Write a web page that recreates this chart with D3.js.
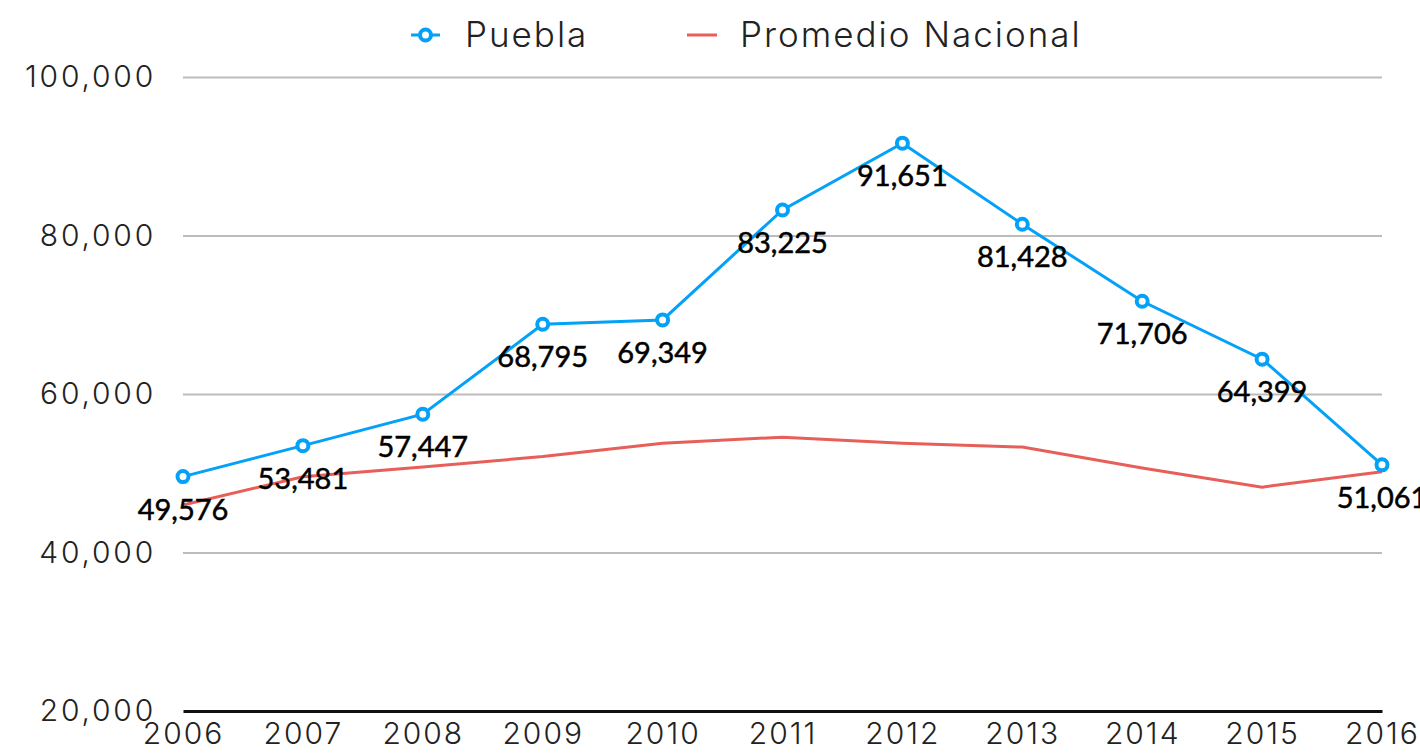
<!DOCTYPE html>
<html>
<head>
<meta charset="utf-8">
<script src="https://cdn.jsdelivr.net/npm/d3@7"></script>
<style>
  body { margin: 0; background: #fff; }
  svg { display: block; }
</style>
</head>
<body>
<svg width="1420" height="753"></svg>
<script>
let years = [2006, 2007, 2008, 2009, 2010, 2011, 2012, 2013, 2014, 2015, 2016];
let puebla = [49576, 53481, 57447, 68795, 69349, 83225, 91651, 81428, 71706, 64399, 51061];
let nacional = [46000, 49550, 50800, 52100, 53800, 54550, 53800, 53300, 50650, 48250, 50200];
let yTicks = [20000, 40000, 60000, 80000, 100000];

let svg = d3.select("svg"),
    width = +svg.attr("width"),
    height = +svg.attr("height");

let margin = {left: 183, right: 38, top: 77, bottom: 42};
let blue = "#03a1f7", red = "#e85e58";
let axisFont = "Inter, 'Open Sans', sans-serif";

let x = d3.scalePoint()
    .domain(years)
    .range([margin.left, width - margin.right]);

let y = d3.scaleLinear()
    .domain([20000, 100000])
    .range([height - margin.bottom, margin.top]);

let fmt = d3.format(",");

// grid + y labels
let yAxis = svg.append("g")
    .attr("transform", "translate(" + margin.left + ",0)")
    .call(d3.axisLeft(y).tickValues(yTicks).tickSize(-(width - margin.right - margin.left)).tickPadding(27).tickFormat(fmt));
yAxis.select(".domain").remove();
yAxis.selectAll(".tick line")
    .attr("stroke", "#bcbcbc")
    .attr("stroke-width", 2);
yAxis.selectAll(".tick text")
    .style("font-family", axisFont)
    .style("font-weight", 300)
    .style("font-size", "30px")
    .style("letter-spacing", "2.8px")
    .attr("fill", "#222");
yAxis.selectAll(".tick").filter(d => d === 20000).select("line").remove();

// x axis
let xAxis = svg.append("g")
    .attr("transform", "translate(0," + y(20000) + ")")
    .call(d3.axisBottom(x).tickSize(0).tickPadding(12));
xAxis.select(".domain")
    .attr("stroke", "#111")
    .attr("stroke-width", 3);
xAxis.selectAll(".tick text")
    .style("font-family", axisFont)
    .style("font-weight", 300)
    .style("font-size", "30px")
    .style("letter-spacing", "2px")
    .attr("dx", 0)
    .attr("fill", "#222");

// lines
let line = d3.line()
    .x((d, i) => x(years[i]))
    .y(d => y(d));

svg.append("path")
    .datum(nacional)
    .attr("fill", "none")
    .attr("stroke", red)
    .attr("stroke-width", 3)
    .attr("d", line);

svg.append("path")
    .datum(puebla)
    .attr("fill", "none")
    .attr("stroke", blue)
    .attr("stroke-width", 3)
    .attr("d", line);

svg.selectAll(".dot")
    .data(puebla)
    .enter().append("circle")
    .attr("cx", (d, i) => x(years[i]))
    .attr("cy", d => y(d))
    .attr("r", 5.5)
    .attr("fill", "#fff")
    .attr("stroke", blue)
    .attr("stroke-width", 4);

svg.selectAll(".lbl")
    .data(puebla)
    .enter().append("text")
    .attr("x", (d, i) => x(years[i]))
    .attr("y", d => y(d) + 43)
    .attr("text-anchor", "middle")
    .style("font-family", "Lato, sans-serif")
    .style("font-size", "29px")
    .attr("fill", "#000")
    .attr("stroke", "#000")
    .attr("stroke-width", 0.5)
    .text(d => fmt(d));

// legend
let legend = svg.append("g");
legend.append("line")
    .attr("x1", 411).attr("x2", 440).attr("y1", 35).attr("y2", 35)
    .attr("stroke", blue).attr("stroke-width", 3);
legend.append("circle")
    .attr("cx", 425.5).attr("cy", 35).attr("r", 5.5)
    .attr("fill", "#fff").attr("stroke", blue).attr("stroke-width", 4);
legend.append("text")
    .attr("x", 465).attr("y", 47)
    .style("font-family", axisFont)
    .style("font-weight", 300)
    .style("font-size", "35px")
    .style("letter-spacing", "2px")
    .attr("fill", "#222")
    .text("Puebla");
legend.append("line")
    .attr("x1", 687).attr("x2", 717).attr("y1", 35).attr("y2", 35)
    .attr("stroke", red).attr("stroke-width", 3);
legend.append("text")
    .attr("x", 740).attr("y", 47)
    .style("font-family", axisFont)
    .style("font-weight", 300)
    .style("font-size", "35px")
    .style("letter-spacing", "2px")
    .attr("fill", "#222")
    .text("Promedio Nacional");
</script>
</body>
</html>
